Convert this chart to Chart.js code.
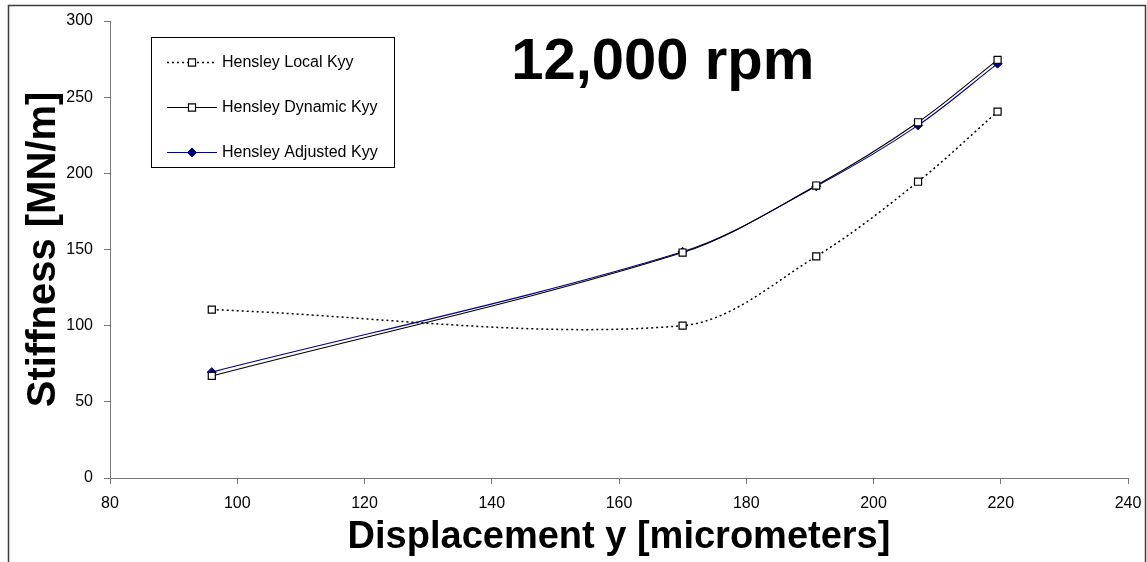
<!DOCTYPE html>
<html>
<head>
<meta charset="utf-8">
<title>Stiffness vs displacement, 12,000 rpm</title>
<script src="https://cdn.jsdelivr.net/npm/chart.js@4/dist/chart.umd.min.js"></script>
<style>
  html, body { margin: 0; padding: 0; background: #fff; }
  #wrap { width: 1147px; height: 562px; position: relative; }
</style>
</head>
<body>
<div id="wrap"><canvas id="chart"></canvas></div>
<script>
// Measured displacement (micrometers) and stiffness (MN/m)
const displacement = [96, 170, 191, 207, 219.5];
const localKyy     = [110.5, 100, 145.5, 194.5, 240.5];
const dynamicKyy   = [67, 148, 192, 233.5, 274.5];
const adjustedKyy  = [69.5, 148.5, 191.5, 231.5, 272];

const seriesNames = ['Hensley Local Kyy', 'Hensley Dynamic Kyy', 'Hensley Adjusted Kyy'];
const xTicks = [80, 100, 120, 140, 160, 180, 200, 220, 240];
const yTicks = [0, 50, 100, 150, 200, 250, 300];
const chartTitle = '12,000 rpm';
const xTitle = 'Displacement y [micrometers]';
const yTitle = 'Stiffness [MN/m]';

const FONT = "'Liberation Sans', Arial, Helvetica, sans-serif";
const NAVY = '#000080';

const toPoints = ys => displacement.map((x, i) => ({ x: x, y: ys[i] }));

// Outer frame around the whole figure
const framePlugin = {
  id: 'frame',
  beforeDraw(chart) {
    const ctx = chart.ctx;
    ctx.save();
    ctx.fillStyle = '#fff';
    ctx.fillRect(0, 0, chart.width, chart.height);
    ctx.strokeStyle = '#3c3c3c';
    ctx.lineWidth = 1.5;
    ctx.strokeRect(8.5, 5.5, chart.width - 10, chart.height + 40);
    ctx.restore();
  }
};

// Big speed label inside the plot area
const speedLabelPlugin = {
  id: 'speedLabel',
  afterDatasetsDraw(chart) {
    const { ctx, chartArea: a } = chart;
    ctx.save();
    ctx.font = 'bold 58px ' + FONT;
    ctx.fillStyle = '#000';
    ctx.textAlign = 'center';
    ctx.textBaseline = 'alphabetic';
    ctx.fillText(chartTitle, a.left + (a.right - a.left) * 0.543, a.top + 58);
    ctx.restore();
  }
};

function drawMarker(ctx, style, r, x, y) {
  if (style === 'rectRot') {
    ctx.moveTo(x, y - r);
    ctx.lineTo(x + r, y);
    ctx.lineTo(x, y + r);
    ctx.lineTo(x - r, y);
    ctx.closePath();
  } else {
    const s = Math.SQRT1_2 * r;
    ctx.rect(x - s, y - s, 2 * s, 2 * s);
  }
}

// Boxed legend drawn in the upper-left of the plot area
const boxLegendPlugin = {
  id: 'boxLegend',
  afterDatasetsDraw(chart) {
    const { ctx, chartArea: a } = chart;
    const bx = a.left + 41, by = a.top + 16, bw = 243, bh = 130;
    ctx.save();
    ctx.fillStyle = '#fff';
    ctx.fillRect(bx, by, bw, bh);
    ctx.strokeStyle = '#000';
    ctx.lineWidth = 1;
    ctx.strokeRect(bx + 0.5, by + 0.5, bw, bh);
    chart.data.datasets.forEach((ds, i) => {
      const cy = by + 25 + i * 45;
      const x0 = bx + 16, x1 = bx + 66, mx = bx + 41;
      ctx.save();
      ctx.strokeStyle = ds.borderColor;
      ctx.lineWidth = ds.borderWidth;
      ctx.setLineDash(ds.borderDash || []);
      ctx.beginPath();
      ctx.moveTo(x0, cy + 0.5);
      ctx.lineTo(x1, cy + 0.5);
      ctx.stroke();
      ctx.restore();
      ctx.fillStyle = ds.pointBackgroundColor;
      ctx.strokeStyle = ds.pointBorderColor;
      ctx.lineWidth = ds.pointBorderWidth;
      ctx.beginPath();
      drawMarker(ctx, ds.pointStyle, ds.pointRadius, mx, cy + 0.5);
      ctx.fill();
      ctx.stroke();
      ctx.fillStyle = '#000';
      ctx.font = '16px ' + FONT;
      ctx.textAlign = 'left';
      ctx.textBaseline = 'middle';
      ctx.fillText(ds.label, bx + 71, cy + 1);
    });
    ctx.restore();
  }
};

const axisColor = '#777';

new Chart(document.getElementById('chart'), {
  type: 'line',
  data: {
    datasets: [
      {
        label: seriesNames[0],
        data: toPoints(localKyy),
        borderColor: '#000',
        borderWidth: 1.5,
        borderDash: [2, 3],
        pointStyle: 'rect',
        pointRadius: 5,
        pointBackgroundColor: '#fff',
        pointBorderColor: '#000',
        pointBorderWidth: 1.2,
        tension: 0.33
      },
      {
        label: seriesNames[1],
        data: toPoints(dynamicKyy),
        borderColor: '#000',
        borderWidth: 1.1,
        pointStyle: 'rect',
        pointRadius: 5,
        pointBackgroundColor: '#fff',
        pointBorderColor: '#000',
        pointBorderWidth: 1.2,
        tension: 0.33
      },
      {
        label: seriesNames[2],
        data: toPoints(adjustedKyy),
        borderColor: NAVY,
        borderWidth: 1.1,
        pointStyle: 'rectRot',
        pointRadius: 4.5,
        pointBackgroundColor: NAVY,
        pointBorderColor: NAVY,
        pointBorderWidth: 1,
        tension: 0.33
      }
    ]
  },
  options: {
    responsive: true,
    maintainAspectRatio: false,
    animation: false,
    devicePixelRatio: 1,
    layout: { padding: { left: 0, right: 0, top: 21, bottom: 0 } },
    plugins: {
      legend: { display: false },
      title: { display: false },
      tooltip: { enabled: false }
    },
    scales: {
      x: {
        type: 'linear',
        min: xTicks[0],
        max: xTicks[xTicks.length - 1],
        afterBuildTicks: s => { s.ticks = xTicks.map(v => ({ value: v })); },
        afterFit: s => { s.height = 84; s.paddingRight = 19; s.paddingLeft = 0; },
        border: { display: true, color: axisColor, width: 1 },
        grid: { drawOnChartArea: false, drawTicks: true, tickLength: 6, tickColor: axisColor },
        ticks: { color: '#000', font: { family: FONT, size: 16 }, padding: 10, maxRotation: 0 },
        title: {
          display: true,
          text: xTitle,
          color: '#000',
          font: { family: FONT, size: 38, weight: 'bold' },
          padding: { top: 0, bottom: 2 }
        }
      },
      y: {
        type: 'linear',
        min: yTicks[0],
        max: yTicks[yTicks.length - 1],
        afterBuildTicks: s => { s.ticks = yTicks.map(v => ({ value: v })); },
        afterFit: s => { s.width = 110; },
        border: { display: true, color: axisColor, width: 1 },
        grid: { drawOnChartArea: false, drawTicks: true, tickLength: 6, tickColor: axisColor },
        ticks: { color: '#000', font: { family: FONT, size: 16 }, padding: 11 },
        title: {
          display: true,
          text: yTitle,
          color: '#000',
          font: { family: FONT, size: 40, weight: 'bold' },
          padding: { top: 20, bottom: 0 }
        }
      }
    }
  },
  plugins: [framePlugin, speedLabelPlugin, boxLegendPlugin]
});
</script>
</body>
</html>
